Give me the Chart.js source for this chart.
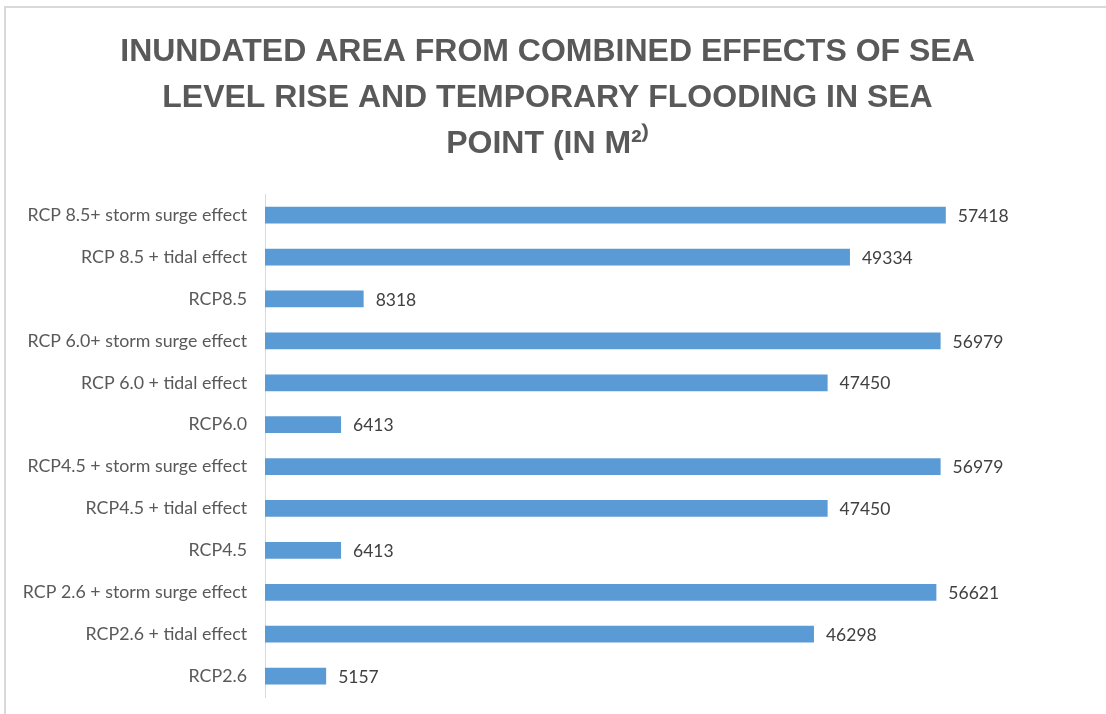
<!DOCTYPE html>
<html lang="en">
<head>
  <meta charset="UTF-8">
  <title>Inundated area - Sea Point</title>
  <script src="https://cdn.jsdelivr.net/npm/chart.js"></script>
  <style>
    html, body { margin: 0; padding: 0; background: #fff; }
    #wrap { position: relative; width: 1106px; height: 714px; }
    #frame { position: absolute; left: 4px; top: 6px; right: 0; bottom: 0;
             border-top: 2px solid #d9d9d9; border-left: 2px solid #d9d9d9; pointer-events: none; }
  </style>
</head>
<body>
  <div id="wrap">
    <canvas id="chart" width="1106" height="714"></canvas>
    <div id="frame"></div>
  </div>

  <script>
    const scenarios = [
      "RCP 8.5+ storm surge effect",
      "RCP 8.5 + tidal effect",
      "RCP8.5",
      "RCP 6.0+ storm surge effect",
      "RCP 6.0 + tidal effect",
      "RCP6.0",
      "RCP4.5 + storm surge effect",
      "RCP4.5 + tidal effect",
      "RCP4.5",
      "RCP 2.6 + storm surge effect",
      "RCP2.6 + tidal effect",
      "RCP2.6"
    ];
    const areas = [57418, 49334, 8318, 56979, 47450, 6413, 56979, 47450, 6413, 56621, 46298, 5157];
    const titleLines = [
      "INUNDATED AREA FROM COMBINED EFFECTS OF SEA",
      "LEVEL RISE AND TEMPORARY FLOODING IN SEA",
      "POINT (IN M\u00B2\u207E"
    ];

    // value labels at the end of each bar
    const valueLabels = {
      id: 'valueLabels',
      afterDatasetsDraw(chart) {
        const ctx = chart.ctx;
        const meta = chart.getDatasetMeta(0);
        ctx.save();
        ctx.font = '17.5px Lato, "Liberation Sans", sans-serif';
        ctx.fillStyle = '#404040';
        ctx.textAlign = 'left';
        ctx.textBaseline = 'middle';
        meta.data.forEach((bar, i) => {
          ctx.fillText(String(areas[i]), bar.x + 12, bar.y + 1);
        });
        ctx.restore();
      }
    };

    new Chart(document.getElementById('chart').getContext('2d'), {
      type: 'bar',
      data: {
        labels: scenarios,
        datasets: [{
          data: areas,
          backgroundColor: '#5b9bd5',
          borderWidth: 0,
          categoryPercentage: 1,
          barPercentage: 0.4
        }]
      },
      options: {
        indexAxis: 'y',
        responsive: false,
        animation: false,
        layout: { padding: { left: 0, right: 11, bottom: 17, top: 0 } },
        plugins: {
          legend: { display: false },
          tooltip: { enabled: false },
          title: {
            display: true,
            text: titleLines,
            color: '#595959',
            font: { family: '"Liberation Sans", sans-serif', size: 32, weight: 'bold', lineHeight: 1.44 },
            padding: { top: 29, bottom: 27 }
          }
        },
        scales: {
          x: { display: false, min: 0, max: 70000 },
          y: {
            grid: { display: false, drawTicks: false },
            border: { display: true, color: '#d9d9d9', width: 1 },
            ticks: {
              color: '#595959',
              padding: 18,
              font: { family: 'Lato, "Liberation Sans", sans-serif', size: 17.8 }
            },
            afterFit(scale) {
              scale.width = 265;
              scale.paddingTop = 0;
              scale.paddingBottom = 0;
            }
          }
        }
      },
      plugins: [valueLabels]
    });
  </script>
</body>
</html>
